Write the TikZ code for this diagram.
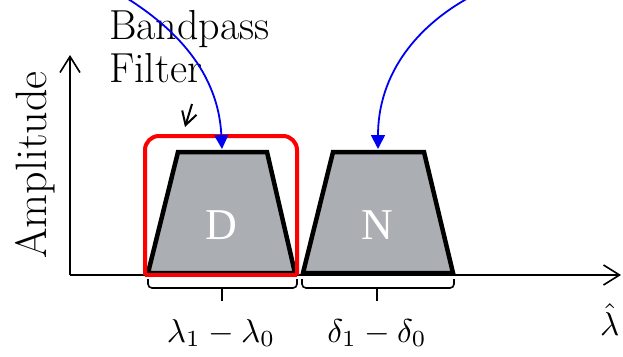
\documentclass[tikz,border=0pt]{standalone}
\usepackage{fontspec}
\newfontfamily\timesfont{Liberation Serif}
\usetikzlibrary{arrows.meta}
\definecolor{bandgray}{HTML}{ABAEB2}
\definecolor{bluearrow}{HTML}{0000F0}
\tikzset{
  axis/.style={line width=1.6pt,-{Straight Barb[length=16pt,width=20pt,line width=1.6pt]}},
  band/.style={fill=bandgray,draw=black,line width=4.5pt,line join=miter},
  filterbox/.style={draw=red,line width=4pt},
  pointer/.style={bluearrow,line width=1.8pt,-{Triangle[length=14pt,width=14pt]}},
  bracestyle/.style={line width=1.6pt,rounded corners=4pt},
  bandlabel/.style={text=white,font=\timesfont\fontsize{44}{50}\selectfont,inner sep=0pt,anchor=base},
  mathlabel/.style={inner sep=0pt,anchor=base},
  textlabel/.style={font=\fontsize{42}{46}\selectfont,inner sep=0pt,anchor=base west},
}
\begin{document}
\begin{tikzpicture}[x=1pt,y=-1pt]
\useasboundingbox (0,0) rectangle (623,356);
% axes
\coordinate (origin) at (70,275);
\coordinate (ytip) at (70,55);
\coordinate (xtip) at (621,275);
\draw[axis] (origin) -- (ytip);
\draw[axis] (origin) -- (xtip);
% bands
\draw[band] (148,273) -- (178,152) -- (267,152) -- (295,273) -- cycle;
\draw[band] (303,273) -- (333,152) -- (424,152) -- (453,273) -- cycle;
\node[bandlabel] (D) at (221,239) {D};
\node[bandlabel] (N) at (377,239) {N};
% filter
\draw[filterbox,rounded corners=14pt] (145,275) -- (145,136) -- (297,136) -- (297,275);
\draw[filterbox] (145,275) -- (297,275);
\coordinate (dtop) at (222,149);
\coordinate (ntop) at (378,149);
% braces
\coordinate (b1l) at (148,279);
\coordinate (b1r) at (297,279);
\coordinate (b1m) at (222,288);
\coordinate (b1t) at (222,301);
\draw[bracestyle] (b1l) -- (148,288) -- (297,288) -- (b1r);
\draw[line width=1.6pt] (b1m) -- (b1t);
\coordinate (b2l) at (302,279);
\coordinate (b2r) at (454,279);
\coordinate (b2m) at (377,288);
\coordinate (b2t) at (377,301);
\draw[bracestyle] (b2l) -- (302,288) -- (454,288) -- (b2r);
\draw[line width=1.6pt] (b2m) -- (b2t);
\node[mathlabel] (lam) at (221,342) {\scalebox{3.3}{$\lambda_1-\lambda_0$}};
\node[mathlabel] (del) at (377,342) {\scalebox{3.3}{$\delta_1-\delta_0$}};
\node[mathlabel,anchor=base west] (lamhat) at (600,335) {\scalebox{3.3}{$\hat{\lambda}$}};
% texts
\node[textlabel] (bp1) at (109,39) {Bandpass};
\node[textlabel] (bp2) at (109,82) {Filter};
\node[font=\fontsize{44}{48}\selectfont,rotate=90,anchor=base,inner sep=0pt] (amp) at (46,165) {Amplitude};
% small filter arrow
\coordinate (fa) at (192,104);
\coordinate (fb) at (185,127);
\draw[line width=2pt,-{Straight Barb[length=13pt,width=15pt,line width=2pt]}] (fa) -- (fb);
% blue arrows
\coordinate (s1) at (125,-3);
\coordinate (s2) at (470,-3);
\draw[pointer] (s1) .. controls (165,22) and (218,65) .. (dtop);
\draw[pointer] (s2) .. controls (410,30) and (378,80) .. (ntop);
\end{tikzpicture}
\end{document}
